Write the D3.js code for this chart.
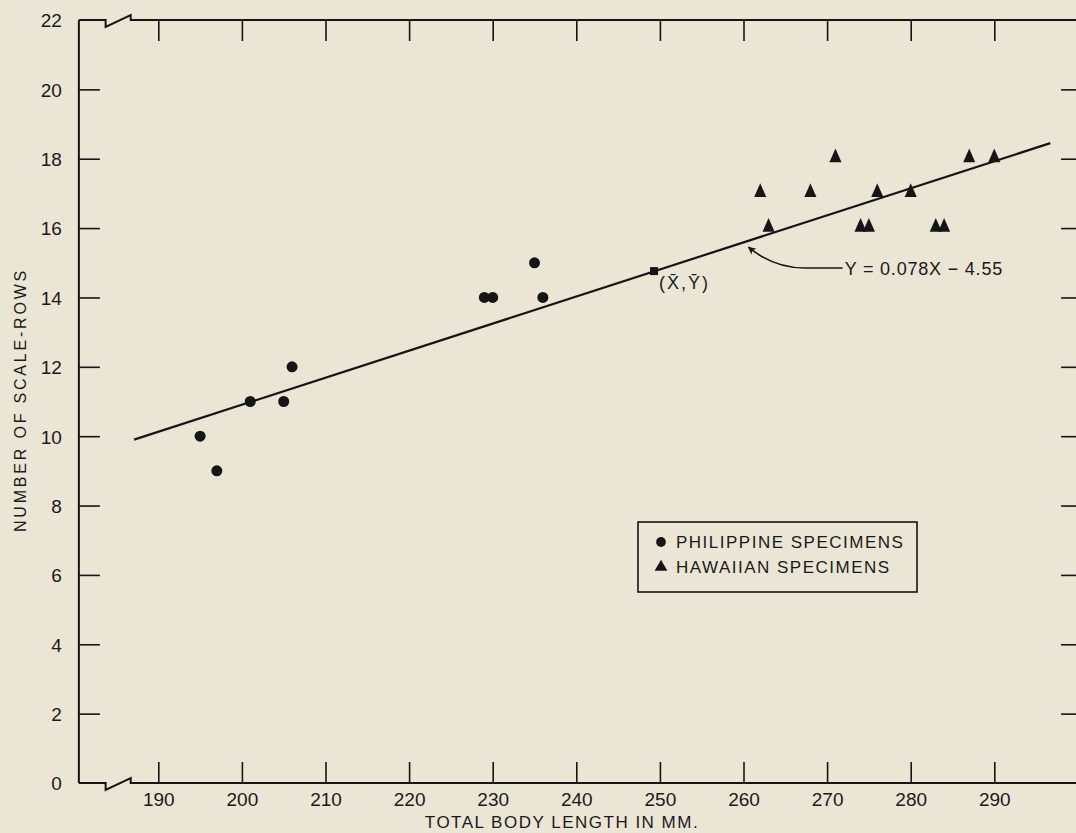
<!DOCTYPE html>
<html>
<head>
<meta charset="utf-8">
<script src="https://cdn.jsdelivr.net/npm/d3@7"></script>
<style>
  html, body { margin: 0; padding: 0; background: #ebe5d5; }
  svg { display: block; }
  text { font-family: "Liberation Sans", Arial, sans-serif; fill: #1a1a1a; }
  .tick-label { font-size: 19px; }
  .x-title { font-size: 17px; letter-spacing: 1.5px; }
  .y-title { font-size: 16px; letter-spacing: 2.8px; }
  .legend-text { font-size: 17px; letter-spacing: 1.5px; }
  .note { font-size: 18px; letter-spacing: 0.8px; }
</style>
</head>
<body>
<div class="chart"></div>
<script>
// values
var xTicks = [190, 200, 210, 220, 230, 240, 250, 260, 270, 280, 290];
var yTicksLeft = [0, 2, 4, 6, 8, 10, 12, 14, 16, 18, 20, 22];
var yTicksRight = [2, 4, 6, 8, 10, 12, 14, 16, 18, 20];

var philippineLength = [195, 197, 201, 205, 206, 229, 230, 236, 235];
var philippineRows   = [10, 9, 11, 11, 12, 14, 14, 14, 15];

var hawaiianLength = [262, 263, 268, 271, 274, 275, 276, 280, 283, 284, 287, 290];
var hawaiianRows   = [17, 16, 17, 18, 16, 16, 17, 17, 16, 16, 18, 18];

var meanPoint = [249.3, 14.76];
var fitLine = [[187.1, 9.9], [296.7, 18.45]];
var equationText = "Y = 0.078X \u2212 4.55";

var legendLabels = ["PHILIPPINE SPECIMENS", "HAWAIIAN SPECIMENS"];

var width = 1076, height = 833;
var ink = "#151515";

var x = d3.scaleLinear().domain([190, 290]).range([158.3, 994.3]);
var y = d3.scaleLinear().domain([0, 22]).range([783, 20]);

var xLeft = 180.5, xRight = 300.5, breakA = 183.7, breakB = 186.7;

var svg = d3.select("body").append("svg")
    .attr("width", width)
    .attr("height", height);

// frame with axis breaks
function breakLine(yPos, dir) {
  var p = d3.path();
  p.moveTo(x(xLeft), yPos);
  p.lineTo(x(breakA), yPos);
  p.lineTo(x(breakA), yPos + 7 * dir);
  p.lineTo(x(breakB), yPos - 5 * dir);
  p.lineTo(x(breakB), yPos + 1 * dir);
  p.lineTo(x(breakB), yPos);
  p.lineTo(x(xRight), yPos);
  return p.toString();
}

svg.append("path")
    .attr("d", breakLine(y(0), 1))
    .attr("fill", "none").attr("stroke", ink).attr("stroke-width", 2);
svg.append("path")
    .attr("d", breakLine(y(22), 1))
    .attr("fill", "none").attr("stroke", ink).attr("stroke-width", 2);
svg.append("line")
    .attr("x1", x(xLeft)).attr("x2", x(xLeft))
    .attr("y1", y(22)).attr("y2", y(0))
    .attr("stroke", ink).attr("stroke-width", 2);

// axes
var xAxisBottom = d3.axisBottom(x).tickValues(xTicks).tickSize(-21).tickPadding(23).tickFormat(d3.format("d"));
var gxb = svg.append("g")
    .attr("transform", "translate(0," + y(0) + ")")
    .call(xAxisBottom);

var xAxisTop = d3.axisTop(x).tickValues(xTicks).tickSize(-21).tickFormat("");
var gxt = svg.append("g")
    .attr("transform", "translate(0," + y(22) + ")")
    .call(xAxisTop);

var yAxisLeft = d3.axisLeft(y).tickValues(yTicksLeft).tickSize(-21).tickPadding(17).tickFormat(d3.format("d"));
var gyl = svg.append("g")
    .attr("transform", "translate(" + x(xLeft) + ",0)")
    .call(yAxisLeft);

var yAxisRight = d3.axisRight(y).tickValues(yTicksRight).tickSize(-21).tickFormat("");
var gyr = svg.append("g")
    .attr("transform", "translate(" + x(xRight) + ",0)")
    .call(yAxisRight);

[gxb, gxt, gyl, gyr].forEach(function(g) {
  g.select(".domain").remove();
  g.selectAll(".tick line").attr("stroke", ink).attr("stroke-width", 1.6);
  g.selectAll(".tick text")
      .attr("class", "tick-label")
      .attr("fill", ink);
  g.attr("font-size", null).attr("font-family", null);
});
// the 0 and 22 ticks on the left coincide with the frame
gyl.selectAll(".tick line").filter(function(d) { return d === 0 || d === 22; }).remove();
gxb.selectAll(".tick text").attr("dy", "0");
gyl.selectAll(".tick text").attr("dy", "0.36em");

// axis titles
svg.append("text")
    .attr("class", "x-title")
    .attr("x", 562)
    .attr("y", 828)
    .attr("text-anchor", "middle")
    .text("TOTAL BODY LENGTH IN MM.");

svg.append("text")
    .attr("class", "y-title")
    .attr("transform", "translate(26," + 400 + ") rotate(-90)")
    .attr("text-anchor", "middle")
    .text("NUMBER OF SCALE-ROWS");

// regression line
svg.append("line")
    .attr("x1", x(fitLine[0][0])).attr("y1", y(fitLine[0][1]))
    .attr("x2", x(fitLine[1][0])).attr("y2", y(fitLine[1][1]))
    .attr("stroke", ink).attr("stroke-width", 2.2);

// mean point
svg.append("rect")
    .attr("x", x(meanPoint[0]) - 4)
    .attr("y", y(meanPoint[1]) - 4)
    .attr("width", 8).attr("height", 8)
    .attr("fill", ink);
svg.append("text")
    .attr("class", "note")
    .attr("x", x(meanPoint[0]) + 5)
    .attr("y", y(meanPoint[1]) + 18)
    .style("letter-spacing", "2px")
    .text("(X\u0304,Y\u0304)");

// data points
var philippine = philippineLength.map(function(d, i) { return {len: d, rows: philippineRows[i]}; });
var hawaiian = hawaiianLength.map(function(d, i) { return {len: d, rows: hawaiianRows[i]}; });

svg.selectAll(".dot")
    .data(philippine)
  .enter().append("circle")
    .attr("class", "dot")
    .attr("r", 5.5)
    .attr("cx", function(d) { return x(d.len); })
    .attr("cy", function(d) { return y(d.rows); })
    .attr("fill", ink);

var tri = d3.symbol().type(d3.symbolTriangle).size(70);
svg.selectAll(".tri")
    .data(hawaiian)
  .enter().append("path")
    .attr("class", "tri")
    .attr("d", tri)
    .attr("transform", function(d) { return "translate(" + x(d.len) + "," + (y(d.rows) - 1) + ") scale(0.95,1.25)"; })
    .attr("fill", ink);

// equation annotation with arrow
var defs = svg.append("defs");
defs.append("marker")
    .attr("id", "arrow")
    .attr("viewBox", "0 0 10 10")
    .attr("refX", 9).attr("refY", 5)
    .attr("markerWidth", 10).attr("markerHeight", 8)
    .attr("markerUnits", "userSpaceOnUse")
    .attr("orient", "auto")
  .append("path")
    .attr("d", "M0,0 L10,5 L0,10 L3,5 Z")
    .attr("fill", ink);

var eqX = x(272.1), eqY = y(14.85);
var tipX = x(260.6), tipY = y(15.45);
var arrow = d3.path();
arrow.moveTo(eqX - 2, eqY);
arrow.lineTo(eqX - 40, eqY);
arrow.quadraticCurveTo(tipX + 25, eqY, tipX, tipY);
svg.append("path")
    .attr("d", arrow.toString())
    .attr("fill", "none")
    .attr("stroke", ink)
    .attr("stroke-width", 1.6)
    .attr("marker-end", "url(#arrow)");

svg.append("text")
    .attr("class", "note")
    .attr("x", eqX)
    .attr("y", eqY + 7)
    .text(equationText);

// legend
var legend = svg.append("g").attr("transform", "translate(638,522)");
legend.append("rect")
    .attr("width", 279).attr("height", 70)
    .attr("fill", "none")
    .attr("stroke", ink)
    .attr("stroke-width", 1.6);

var item = legend.selectAll(".legend")
    .data(legendLabels)
  .enter().append("g")
    .attr("class", "legend")
    .attr("transform", function(d, i) { return "translate(0," + (20 + i * 25) + ")"; });

item.append("path")
    .attr("d", function(d, i) {
      return i === 0 ? d3.symbol().type(d3.symbolCircle).size(75)() : tri();
    })
    .attr("transform", "translate(23,0)")
    .attr("fill", ink);

item.append("text")
    .attr("class", "legend-text")
    .attr("x", 38)
    .attr("y", 0)
    .attr("dy", "0.36em")
    .text(function(d) { return d; });
</script>
</body>
</html>
